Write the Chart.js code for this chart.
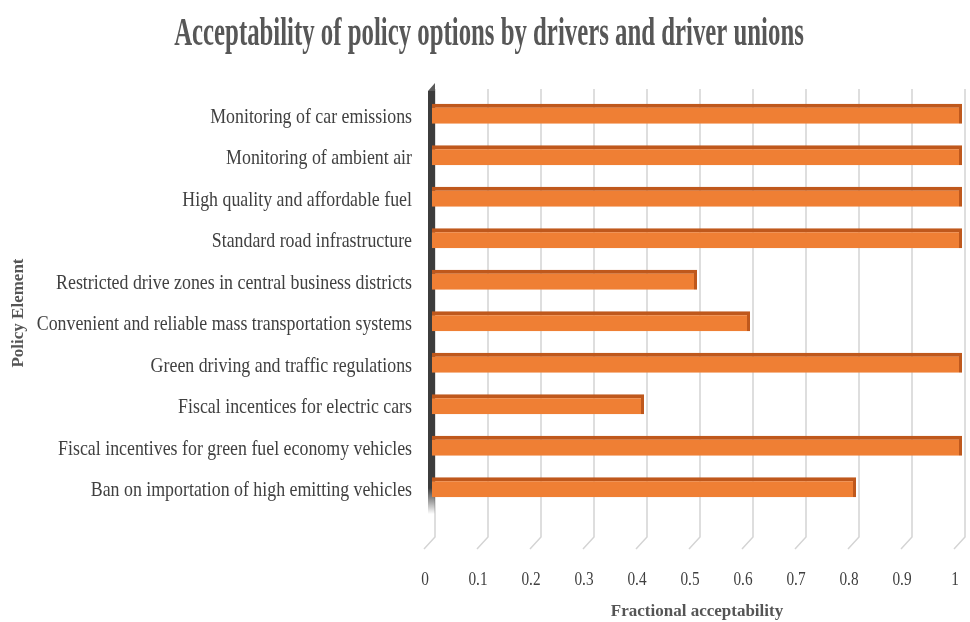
<!DOCTYPE html>
<html>
<head>
<meta charset="utf-8">
<script src="https://cdn.jsdelivr.net/npm/chart.js@4.4.1/dist/chart.umd.min.js"></script>
<style>
  html, body { margin: 0; padding: 0; background: #fff; }
  #wrap { width: 970px; height: 622px; }
</style>
</head>
<body>
<div id="wrap"><canvas id="policyChart" width="970" height="622"></canvas></div>
<script>
const policyElements = [
  "Monitoring of car emissions",
  "Monitoring of ambient air",
  "High quality and affordable fuel",
  "Standard road infrastructure",
  "Restricted drive zones in central business districts",
  "Convenient and reliable mass transportation systems",
  "Green driving and traffic regulations",
  "Fiscal incentices for electric cars",
  "Fiscal incentives for green fuel economy vehicles",
  "Ban on importation of high emitting vehicles"
];
const acceptability = [1, 1, 1, 1, 0.5, 0.6, 1, 0.4, 1, 0.8];
const xTicks = [0, 0.1, 0.2, 0.3, 0.4, 0.5, 0.6, 0.7, 0.8, 0.9, 1];
const chartTitle = "Acceptability of policy options by drivers and driver unions";

const SERIF = "'Liberation Serif', 'Times New Roman', serif";
const TEXT = "#404040";

// narrow serif text: draw with a horizontal squeeze
function narrowText(ctx, text, x, y, sx, align) {
  ctx.save();
  ctx.translate(x, y);
  ctx.scale(sx, 1);
  ctx.textAlign = align;
  ctx.fillText(text, 0, 0);
  ctx.restore();
}

document.addEventListener("DOMContentLoaded", () => {
  const ctx = document.getElementById("policyChart").getContext("2d");

  // gridlines with the slanted floor edge, plus the dark back wall
  const depthGrid = {
    id: "depthGrid",
    beforeDatasetsDraw(chart) {
      const { ctx, chartArea, scales } = chart;
      const floorY = chartArea.bottom + 29;
      ctx.save();
      ctx.strokeStyle = "#d4d4d4";
      ctx.lineWidth = 1.5;
      xTicks.forEach((v) => {
        const x = scales.x.getPixelForValue(v) + 3;
        ctx.beginPath();
        ctx.moveTo(x, chartArea.top - 4);
        ctx.lineTo(x, floorY);
        ctx.lineTo(x - 11, floorY + 12);
        ctx.stroke();
      });

      // back wall strip
      const wx = chartArea.left - 4;
      const grad = ctx.createLinearGradient(0, chartArea.bottom - 20, 0, chartArea.bottom + 6);
      grad.addColorStop(0, "#3c3c3c");
      grad.addColorStop(1, "rgba(60,60,60,0)");
      ctx.fillStyle = "#3c3c3c";
      ctx.fillRect(wx, chartArea.top - 2, 7, chartArea.bottom - chartArea.top - 20);
      ctx.fillStyle = grad;
      ctx.fillRect(wx, chartArea.bottom - 22, 7, 28);
      ctx.fillStyle = "#5a5a5a";
      ctx.beginPath();
      ctx.moveTo(wx, chartArea.top - 2);
      ctx.lineTo(wx + 7, chartArea.top - 10);
      ctx.lineTo(wx + 7, chartArea.top - 2);
      ctx.closePath();
      ctx.fill();
      ctx.restore();
    },
    afterDraw(chart) {
      const { ctx, scales } = chart;
      ctx.save();
      ctx.textBaseline = "alphabetic";

      // title
      ctx.fillStyle = "#575757";
      ctx.font = "bold 40px " + SERIF;
      narrowText(ctx, chartTitle, 489, 45, 0.62, "center");

      // category labels
      ctx.fillStyle = TEXT;
      ctx.font = "21px " + SERIF;
      policyElements.forEach((label, i) => {
        narrowText(ctx, label, 412, scales.y.getPixelForValue(i) + 9, 0.85, "right");
      });

      // value ticks
      ctx.font = "18px " + SERIF;
      xTicks.forEach((v) => {
        narrowText(ctx, String(v), scales.x.getPixelForValue(v) - 7, 585, 0.85, "center");
      });

      // y axis title
      ctx.translate(19, 313);
      ctx.rotate(-Math.PI / 2);
      ctx.font = "bold 17px " + SERIF;
      ctx.fillStyle = "#555";
      ctx.textAlign = "center";
      ctx.textBaseline = "middle";
      ctx.fillText("Policy Element", 0, 0);
      ctx.restore();
    }
  };

  new Chart(ctx, {
    type: "bar",
    data: {
      labels: policyElements,
      datasets: [
        {
          label: "Fractional acceptability",
          data: acceptability,
          backgroundColor: "#ef7f34",
          borderColor: "#bf581c",
          borderWidth: { top: 4, right: 3, bottom: 0, left: 0 },
          borderSkipped: false,
          barPercentage: 0.48,
          categoryPercentage: 1
        }
      ]
    },
    options: {
      indexAxis: "y",
      responsive: false,
      animation: false,
      layout: { padding: { left: 0, right: 8, top: 93, bottom: 0 } },
      plugins: {
        legend: { display: false },
        tooltip: { enabled: false },
        title: { display: false }
      },
      scales: {
        x: {
          min: 0,
          max: 1,
          afterBuildTicks(scale) {
            scale.ticks = xTicks.map((v) => ({ value: v }));
          },
          afterFit(scale) {
            scale.height = 114;
          },
          grid: { display: false, drawTicks: false },
          border: { display: false },
          ticks: { display: false },
          title: {
            display: true,
            text: "Fractional acceptability",
            color: "#555",
            font: { family: SERIF, size: 17, weight: "bold" },
            padding: { top: 0, bottom: 0 },
            align: "center"
          }
        },
        y: {
          afterFit(scale) {
            scale.width = 432;
          },
          grid: { display: false, drawTicks: false },
          border: { display: false },
          ticks: { display: false }
        }
      }
    },
    plugins: [depthGrid]
  });
});
</script>
</body>
</html>
